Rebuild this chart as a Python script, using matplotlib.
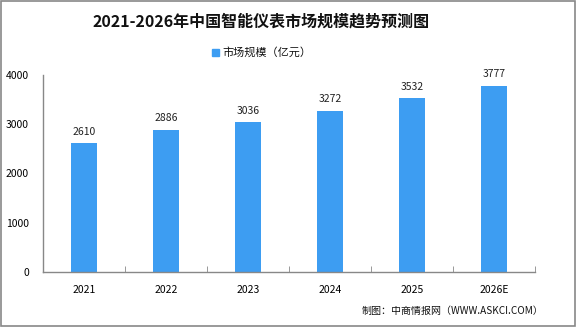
import matplotlib
matplotlib.use("Agg")
import matplotlib.pyplot as plt
from matplotlib.patches import Rectangle

plt.rcParams['font.family'] = ['Noto Sans CJK SC', 'DejaVu Sans']

# Data
years = ['2021', '2022', '2023', '2024', '2025', '2026E']
values = [2610, 2886, 3036, 3272, 3532, 3777]
bar_color = '#3d9df2'

fig = plt.figure(figsize=(5.76, 3.27), dpi=100)
ax = fig.add_axes([0.0747, 0.168, 0.8543, 0.603])

x = range(len(years))
bars = ax.bar(x, values, width=0.32, color=bar_color, zorder=2)
for xi, v in zip(x, values):
    ax.text(xi, v + 130, str(v), ha='center', va='bottom', fontsize=7.5, color='#222222')

ax.set_xlim(-0.5, len(years) - 0.5)
ax.set_ylim(0, 4000)
ax.set_yticks([0, 1000, 2000, 3000, 4000])
ax.set_xticks(list(x))
ax.set_xticklabels(years)
ax.set_xticks([i - 0.5 for i in range(len(years) + 1)], minor=True)
ax.tick_params(axis='x', which='major', length=0, labelsize=7.5, pad=9)
ax.tick_params(axis='x', which='minor', length=4, direction='in', color='#888888')
ax.tick_params(axis='y', length=0, labelsize=7.5, pad=10)
for s in ['top', 'right']:
    ax.spines[s].set_visible(False)
for s in ['left', 'bottom']:
    ax.spines[s].set_color('#888888')
    ax.spines[s].set_linewidth(1.0)

fig.text(0.454, 0.933, '2021-2026年中国智能仪表市场规模趋势预测图', ha='center', va='center',
         fontsize=11.5, fontweight='bold', color='#111111')

# legend
fig.patches.append(Rectangle((0.368, 0.828), 0.012, 0.021, transform=fig.transFigure,
                             color=bar_color, figure=fig))
fig.text(0.386, 0.839, '市场规模（亿元）', ha='left', va='center', fontsize=8, color='#111111')

fig.text(0.943, 0.048, '制图：中商情报网（WWW.ASKCI.COM）', ha='right', va='center',
         fontsize=7.2, color='#111111')

# border
fig.patches.append(Rectangle((0.001, 0.002), 0.997, 0.995, transform=fig.transFigure,
                             fill=False, edgecolor='#888888', linewidth=1.2, figure=fig))

fig.savefig('out.png', dpi=100)
